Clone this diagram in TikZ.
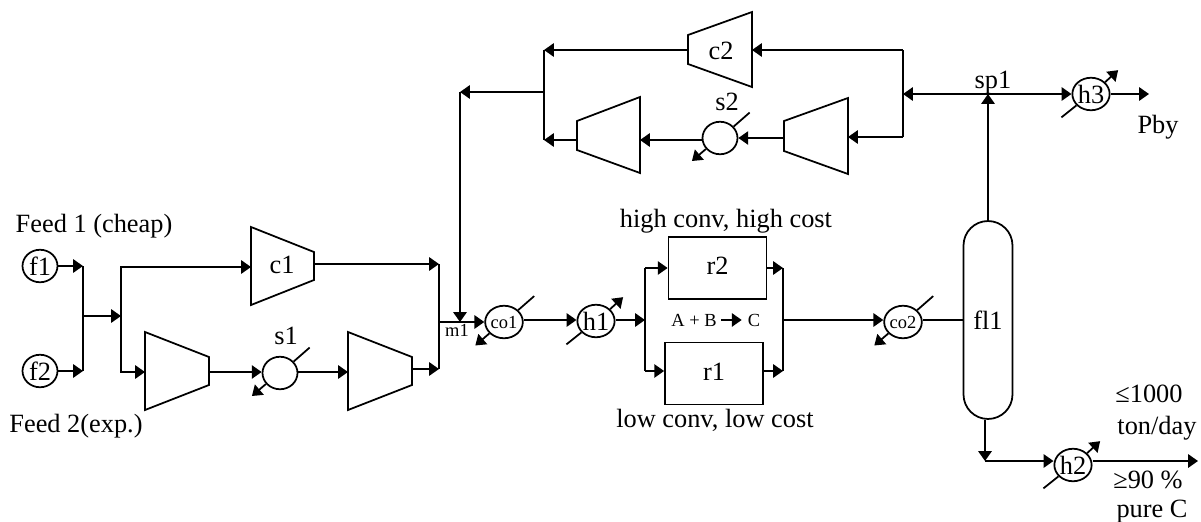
\documentclass[tikz,border=0pt]{standalone}
\usepackage{fontspec}
\setmainfont{Liberation Serif}
\usetikzlibrary{shapes,arrows.meta}

\tikzset{
	>={Triangle[length=5.6pt,width=7.6pt]},
	every node/.style={font=\fontsize{15}{18}\selectfont,inner sep=0pt},
	unit/.style={draw,ellipse,minimum width=0.7cm,minimum height=0.65cm},
	small/.style={font=\fontsize{10.5}{12}\selectfont},
	reactor/.style={draw,text depth=2pt,minimum width=1.96cm,minimum height=1.24cm},
	stream/.style={line width=1pt},
}
\newcommand{\heatline}[1]{
	\draw[stream] (#1.218) -- ++(-15,12);
	\draw[stream,->] (#1.40) -- ++(13,-12);
}
\newcommand{\coolline}[1]{
	\draw[stream] (#1.40) -- ++(16,-14);
	\draw[stream,->] (#1.218) -- ++(-14,12);
}

\begin{document}
\begin{tikzpicture}[x=0.02cm,y=-0.02cm,line width=1pt]
	\useasboundingbox (0,0) rectangle (1201,521);

	% units
	\node[unit] (f1) at (40,266) {f1};
	\node[unit] (f2) at (40,371) {f2};
	\node[unit] (s1) at (280,373) {};
	\node[unit] (s2) at (720,138) {};
	\node[unit,small] (co1) at (504,322) {co1};
	\node[unit] (h1) at (596,321) {h1};
	\node[unit,small] (co2) at (903,322) {co2};
	\node[unit] (h3) at (1091,94) {h3};
	\node[unit] (h2) at (1073,465) {h2};
	\node[reactor] (r2) at (717.5,268) {r2};
	\node[reactor] (r1) at (714,373.5) {r1};
	\node[draw,minimum width=0.98cm,minimum height=3.96cm,rounded corners=0.49cm] (fl1) at (988,320) {fl1};

	% compressors
	\draw (251,227) -- (314,252) -- (314,280) -- (251,305) -- cycle;
	\draw (145,332) -- (209,357) -- (209,385) -- (145,410) -- cycle;
	\draw (348,332) -- (412,357) -- (412,385) -- (348,410) -- cycle;
	\draw (752,12) -- (688,35) -- (688,64) -- (752,87) -- cycle;
	\draw (640,97) -- (577,121) -- (577,150) -- (640,173) -- cycle;
	\draw (848,98) -- (784,121) -- (784,151) -- (848,174) -- cycle;
	\node (c1) at (282,273) [anchor=base] {c1};
	\node (c2) at (721,59) [anchor=base] {c2};

	% points on the lines
	\coordinate (feedtop) at (83,266);
	\coordinate (feedbot) at (83,371);
	\coordinate (feedmid) at (83,316);
	\coordinate (split) at (121,316);
	\coordinate (c1in) at (251,267);
	\coordinate (c1out) at (314,264);
	\coordinate (c3in) at (145,372);
	\coordinate (c3out) at (209,372);
	\coordinate (c4in) at (348,372);
	\coordinate (c4out) at (412,369);
	\coordinate (mixtop) at (439,264);
	\coordinate (mixbot) at (439,369);
	\coordinate (mixmid) at (439,322);
	\coordinate (recin) at (460,322);
	\coordinate (rectop) at (460,92);
	\coordinate (retjoin) at (544,92);
	\coordinate (rettop) at (544,50);
	\coordinate (retbot) at (544,140);
	\coordinate (c2out) at (688,50);
	\coordinate (c2in) at (752,50);
	\coordinate (c5out) at (577,140);
	\coordinate (c5in) at (640,140);
	\coordinate (c6out) at (784,138);
	\coordinate (c6in) at (848,137);
	\coordinate (recsplit) at (903,94);
	\coordinate (rectopr) at (903,50);
	\coordinate (recbotr) at (903,137);
	\coordinate (sp) at (988,94);
	\coordinate (pbyend) at (1149,94);
	\coordinate (rxin) at (645,320);
	\coordinate (rxtop) at (645,268);
	\coordinate (rxbot) at (645,371);
	\coordinate (rxotop) at (783,268);
	\coordinate (rxobot) at (783,371);
	\coordinate (rxout) at (783,320);
	\coordinate (flbot) at (985,461);
	\coordinate (prodend) at (1198,461);

	% feed section
	\draw[->] (f1) -- (feedtop);
	\draw[->] (f2) -- (feedbot);
	\draw (feedtop) -- (feedbot);
	\draw[->] (feedmid) -- (split);
	\draw[->] (split) |- (c1in);
	\draw[->] (split) |- (c3in);
	\draw[->] (c3out) -- (c3out -| s1.west);
	\draw[->] (c3out -| s1.east) -- (c4in);
	\draw[->] (c1out) -- (mixtop);
	\draw[->] (c4out) -- (mixbot);
	\draw (mixtop) -- (mixbot);
	\draw[->] (mixmid) -- (co1.west);
	\draw[->] (rectop) -- (recin);

	% recycle section
	\draw[->] (retjoin) -- (rectop);
	\draw (rettop) -- (retbot);
	\draw[->] (c2out) -- (rettop);
	\draw[->] (c5out) -- (retbot);
	\draw[->] (rectopr) -- (c2in);
	\draw (rectopr) -- (recbotr);
	\draw[->] (recbotr) -- (c6in);
	\draw[->] (c6out) -- (c6out -| s2.east);
	\draw[->] (c5in -| s2.west) -- (c5in);
	\draw[->] (sp) -- (recsplit);
	\draw[->] (sp) -- (h3);
	\draw[->] (h3) -- (pbyend);
	\draw[->] (fl1) -- (sp);

	% reactors
	\draw[->] (rxin -| co1.east) -- (rxin -| h1.west);
	\draw[->] (rxin -| h1.east) -- (rxin);
	\draw (rxtop) -- (rxbot);
	\draw[->] (rxtop) -- (r2);
	\draw[->] (rxbot) -- (rxbot -| r1.west);
	\draw[->] (r2) -- (rxotop);
	\draw[->] (rxobot -| r1.east) -- (rxobot);
	\draw (rxotop) -- (rxobot);
	\draw[->] (rxout) -- (rxout -| co2.west);
	\draw (rxout -| co2.east) -- (rxout -| fl1.west);
	\draw[->] (fl1.south -| flbot) -- (flbot);
	\draw[->] (flbot) -- (flbot -| h2.west);
	\draw[->] (prodend -| h2.east) -- (prodend);

	% the lines through the exchangers
	\coolline{s1}
	\coolline{s2}
	\coolline{co1}
	\coolline{co2}
	\heatline{h1}
	\heatline{h2}
	\heatline{h3}

	% labels
	\node (feedone) at (94,232) [anchor=base] {Feed 1 (cheap)};
	\node (feedtwo) at (76,432) [anchor=base] {Feed 2(exp.)};
	\node (s1lab) at (286,344) [anchor=base] {s1};
	\node (s2lab) at (727,110) [anchor=base] {s2};
	\node (sp1lab) at (993,88) [anchor=base] {sp1};
	\node (pbylab) at (1158,133) [anchor=base] {Pby};
	\node[small] (m1lab) at (457,336) [anchor=base] {m1};
	\node (r2lab) at (726,227) [anchor=base] {high conv, high cost};
	\node (r1lab) at (715,427) [anchor=base] {low conv, low cost};
	\node[small] (rxl) at (694,326) [anchor=base] {A + B};
	\node[small] (rxr) at (754,326) [anchor=base] {C};
	\draw[->,shorten <=2pt,shorten >=3pt] (rxl) -- (rxr);
	\node (ton) at (1149,402) [anchor=base] {≤1000};
	\node (tonday) at (1157,434) [anchor=base] {ton/day};
	\node (pur) at (1148,488) [anchor=base] {≥90 \%};
	\node (purec) at (1152,517) [anchor=base] {pure C};
\end{tikzpicture}
\end{document}
